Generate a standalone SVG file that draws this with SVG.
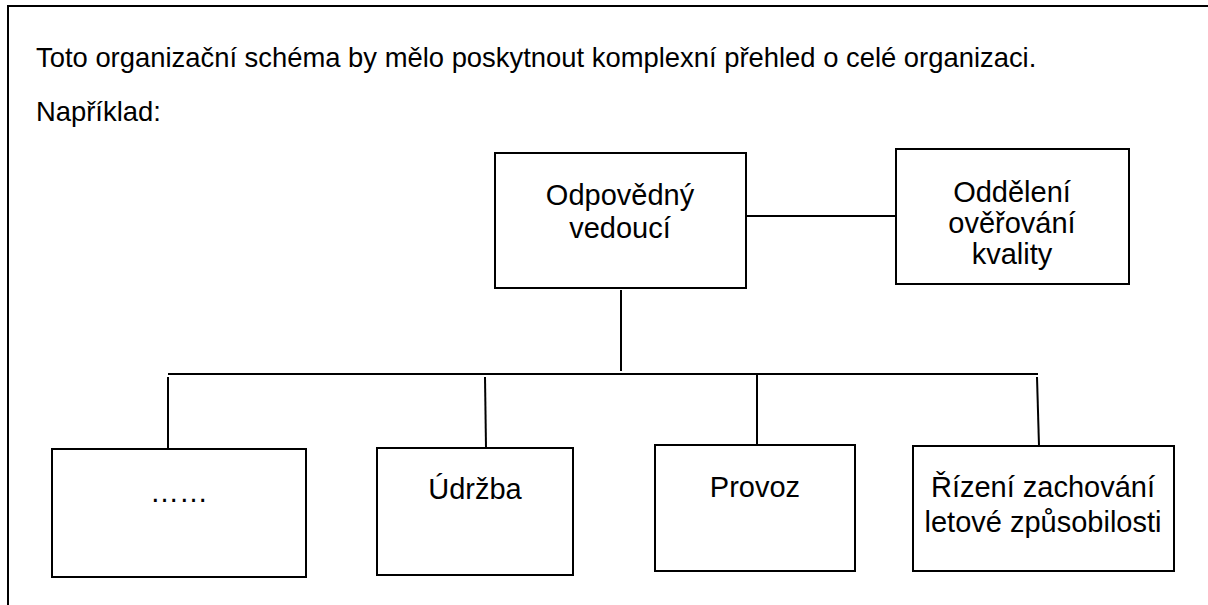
<svg xmlns="http://www.w3.org/2000/svg" width="1208" height="605" viewBox="0 0 1208 605">
<style>
.box{fill:#fff;stroke:#000;stroke-width:2}
.ln{stroke:#000;stroke-width:2;fill:none}
.t{font-family:"Liberation Sans",Arial,sans-serif;font-size:29px;fill:#000;text-anchor:middle}
.p{font-family:"Liberation Sans",Arial,sans-serif;font-size:27.4px;fill:#000}
</style>
<rect width="1208" height="605" fill="#fff"/>
<g id="frame"><path class="ln" d="M8,605 V6 H1208"/></g>
<g id="intro">
<text class="p" x="36" y="67">Toto organizační schéma by mělo poskytnout komplexní přehled o celé organizaci.</text>
<text class="p" x="36" y="121">Například:</text>
</g>
<g id="connectors">
<line class="ln" x1="746" y1="216" x2="896" y2="216"/>
<line class="ln" x1="621" y1="290" x2="621" y2="371"/>
<line class="ln" x1="168" y1="374" x2="1038" y2="374"/>
<line class="ln" x1="168" y1="377" x2="168" y2="449"/>
<line class="ln" x1="485" y1="377" x2="486" y2="448"/>
<line class="ln" x1="757" y1="374" x2="757" y2="445"/>
<line class="ln" x1="1037" y1="377" x2="1039" y2="446"/>
</g>
<g id="node-odpovedny">
<rect class="box" x="495" y="153" width="251" height="135"/>
<text class="t" x="620" y="205">Odpovědný</text>
<text class="t" x="620" y="238">vedoucí</text>
</g>
<g id="node-oddeleni">
<rect class="box" x="896" y="149" width="233" height="135"/>
<text class="t" x="1012" y="202">Oddělení</text>
<text class="t" x="1012" y="233">ověřování</text>
<text class="t" x="1012" y="264">kvality</text>
</g>
<g id="node-dots">
<rect class="box" x="52" y="449" width="254" height="128"/>
<text class="t" x="179" y="502">……</text>
</g>
<g id="node-udrzba">
<rect class="box" x="377" y="448" width="196" height="127"/>
<text class="t" x="475" y="499">Údržba</text>
</g>
<g id="node-provoz">
<rect class="box" x="655" y="445" width="200" height="126"/>
<text class="t" x="755" y="497">Provoz</text>
</g>
<g id="node-rizeni">
<rect class="box" x="913" y="446" width="261" height="125"/>
<text class="t" x="1043" y="497">Řízení zachování</text>
<text class="t" x="1043" y="532">letové způsobilosti</text>
</g>
</svg>
